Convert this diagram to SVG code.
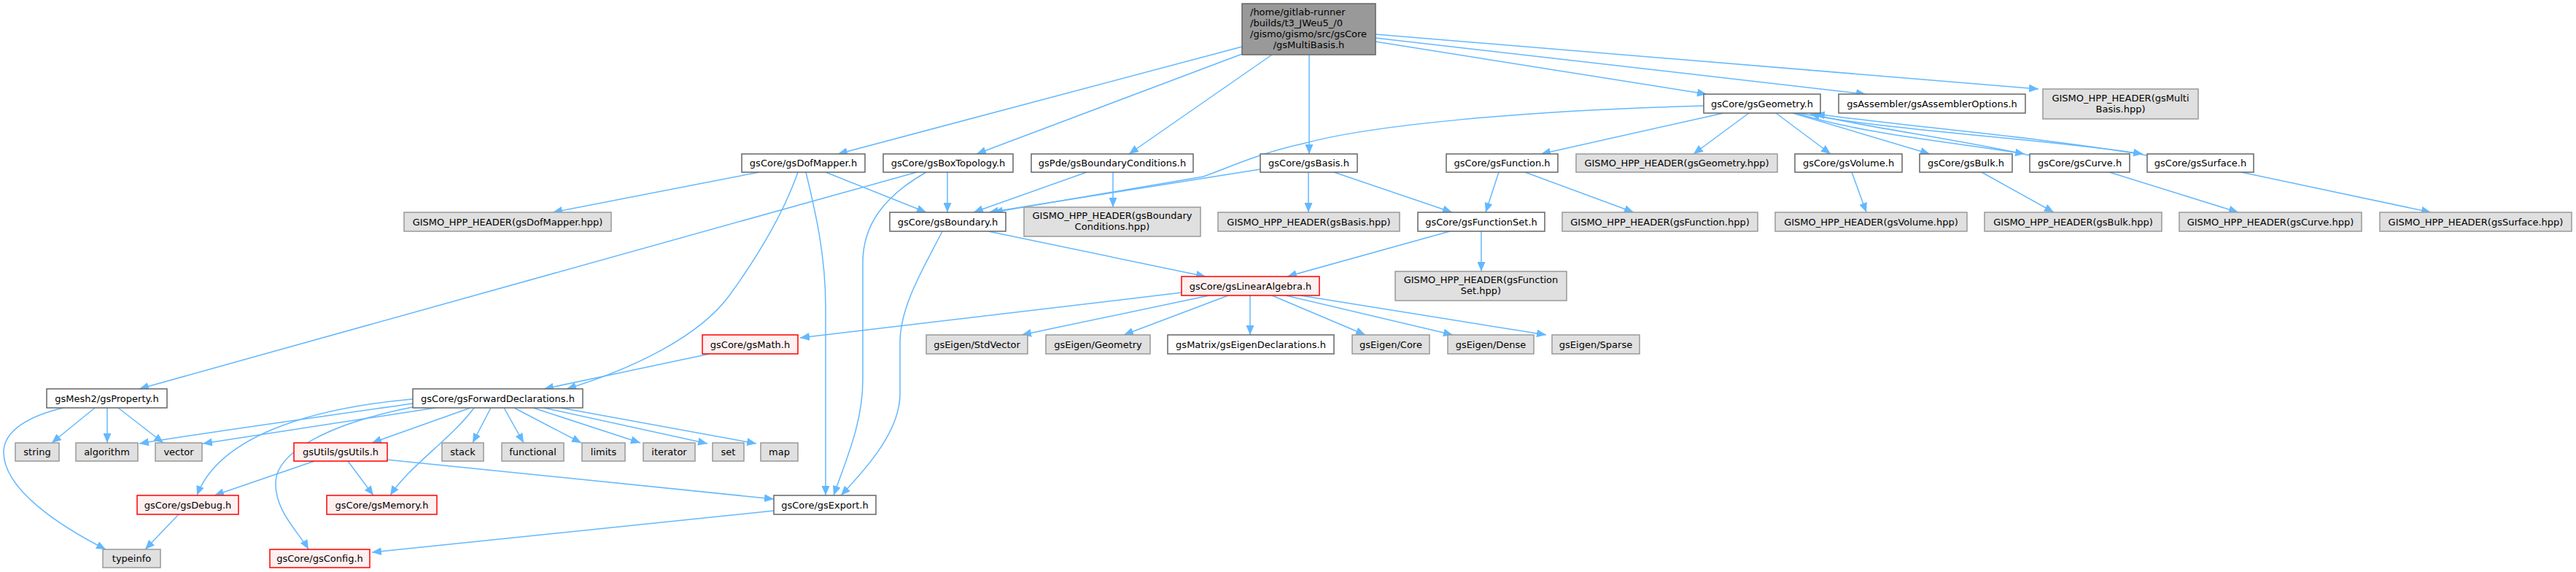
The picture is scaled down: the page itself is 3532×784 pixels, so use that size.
<svg xmlns="http://www.w3.org/2000/svg" width="3532" height="784" viewBox="0 0 3532 784">
<style>
rect{stroke-width:1.5}
.n rect{fill:#ffffff;stroke:#666666}
.g rect{fill:#e0e0e0;stroke:#999999}
.r rect{fill:#fff0f0;stroke:#ff0000}
.root rect{fill:#999999;stroke:#666666}
text{font-family:"DejaVu Sans",sans-serif;font-size:13px;fill:#000;text-anchor:middle}
.l{text-anchor:start}
#edges path{fill:none;stroke:#63b8ff;stroke-width:1.5;marker-end:url(#a)}
</style>
<defs>
<marker id="a" markerWidth="14" markerHeight="11" refX="13" refY="5.5" orient="auto" markerUnits="userSpaceOnUse"><path d="M0,0 L13,5.5 L0,11 z" fill="#63b8ff"/></marker>
</defs>
<rect width="3532" height="784" fill="#ffffff"/>
<g id="edges">
<path d="M1703,64 L1149,211"/>
<path d="M1703,74 L1339,211"/>
<path d="M1744,75 L1548,211"/>
<path d="M1795,75 L1795,211"/>
<path d="M1886,57 L2340,129"/>
<path d="M1886,52 L2558,129"/>
<path d="M1886,47 L2795,122"/>
<path d="M2336,145 C2080,152 1880,172 1790,196 C1720,212 1690,228 1650,242 L1362,291"/>
<path d="M2363,155 L2113,211"/>
<path d="M2398,155 L2322,211"/>
<path d="M2435,155 L2510,211"/>
<path d="M2458,155 L2646,211"/>
<path d="M2462,155 C2560,185 2680,195 2776,211"/>
<path d="M2783,213 C2680,190 2560,175 2482,156"/>
<path d="M2466,155 C2600,180 2800,190 2938,211"/>
<path d="M2944,213 C2800,188 2600,172 2489,156"/>
<path d="M1041,236 L758,291"/>
<path d="M1132,236 L1270,291"/>
<path d="M1094,236 C1075,290 1040,350 1000,405 C960,460 870,505 777,533"/>
<path d="M1105,236 C1118,290 1132,350 1132,420 L1132,679"/>
<path d="M1257,236 L191,533"/>
<path d="M1270,236 C1210,270 1183,310 1183,360 L1183,520 C1183,580 1160,630 1143,679"/>
<path d="M1299,236 L1299,291"/>
<path d="M1490,236 L1335,291"/>
<path d="M1526,236 L1526,284"/>
<path d="M1728,232 L1356,291"/>
<path d="M1794,236 L1794,291"/>
<path d="M1829,236 L1991,291"/>
<path d="M2055,236 L2037,291"/>
<path d="M2091,236 L2240,291"/>
<path d="M2539,236 L2559,291"/>
<path d="M2717,236 L2816,291"/>
<path d="M2892,236 L3069,291"/>
<path d="M3073,236 L3333,291"/>
<path d="M1355,317 L1653,379"/>
<path d="M1292,317 C1265,370 1234,420 1234,470 L1234,540 C1234,590 1190,640 1153,679"/>
<path d="M1988,317 L1765,379"/>
<path d="M2031,317 L2031,372"/>
<path d="M1620,401 L1097,463"/>
<path d="M1658,405 L1401,459"/>
<path d="M1684,405 L1541,459"/>
<path d="M1714,405 L1714,459"/>
<path d="M1744,405 L1872,459"/>
<path d="M1763,405 L1992,459"/>
<path d="M1783,405 L2120,459"/>
<path d="M973,485 L746,533"/>
<path d="M87,559 C40,570 5,590 5,620 C5,670 80,720 145,753"/>
<path d="M130,559 L71,607"/>
<path d="M147,559 L147,607"/>
<path d="M162,559 L224,607"/>
<path d="M566,553 C450,570 300,590 191,608"/>
<path d="M597,559 L278,608"/>
<path d="M645,559 L510,607"/>
<path d="M673,559 L648,607"/>
<path d="M691,559 L718,607"/>
<path d="M705,559 L797,607"/>
<path d="M731,559 L878,607"/>
<path d="M746,559 L970,608"/>
<path d="M769,559 L1037,608"/>
<path d="M566,547 C420,560 300,600 270,679"/>
<path d="M571,557 C450,580 380,620 378,660 C376,700 410,730 423,753"/>
<path d="M650,559 C620,600 560,640 535,679"/>
<path d="M431,632 L294,679"/>
<path d="M477,632 L512,679"/>
<path d="M530,630 L1061,684"/>
<path d="M245,705 L199,753"/>
<path d="M1061,700 L510,757"/>
</g>
<g id="root" class="root"><rect x="1703" y="5" width="183" height="70"/><text class="l" x="1714" y="21">/home/gitlab-runner</text><text class="l" x="1714" y="36">/builds/t3_JWeu5_/0</text><text class="l" x="1714" y="51">/gismo/gismo/src/gsCore</text><text x="1794.5" y="66">/gsMultiBasis.h</text></g>
<g id="gsGeometry" class="n"><rect x="2336" y="129" width="160" height="26"/><text x="2416" y="146.5">gsCore/gsGeometry.h</text></g>
<g id="gsAssemblerOptions" class="n"><rect x="2521" y="129" width="256" height="26"/><text x="2649" y="146.5">gsAssembler/gsAssemblerOptions.h</text></g>
<g id="gsMultiBasis_hpp" class="g"><rect x="2801" y="122" width="213" height="41"/><text x="2907.5" y="139">GISMO_HPP_HEADER(gsMulti</text><text x="2907.5" y="154">Basis.hpp)</text></g>
<g id="gsDofMapper" class="n"><rect x="1017" y="211" width="169" height="25"/><text x="1101.5" y="228">gsCore/gsDofMapper.h</text></g>
<g id="gsBoxTopology" class="n"><rect x="1211" y="211" width="178" height="25"/><text x="1300" y="228">gsCore/gsBoxTopology.h</text></g>
<g id="gsBoundaryConditions" class="n"><rect x="1414" y="211" width="222" height="25"/><text x="1525" y="228">gsPde/gsBoundaryConditions.h</text></g>
<g id="gsBasis" class="n"><rect x="1728" y="211" width="133" height="25"/><text x="1794.5" y="228">gsCore/gsBasis.h</text></g>
<g id="gsFunction" class="n"><rect x="1983" y="211" width="153" height="25"/><text x="2059.5" y="228">gsCore/gsFunction.h</text></g>
<g id="gsGeometry_hpp" class="g"><rect x="2161" y="211" width="276" height="25"/><text x="2299" y="228">GISMO_HPP_HEADER(gsGeometry.hpp)</text></g>
<g id="gsVolume" class="n"><rect x="2461" y="211" width="147" height="25"/><text x="2534.5" y="228">gsCore/gsVolume.h</text></g>
<g id="gsBulk" class="n"><rect x="2632" y="211" width="127" height="25"/><text x="2695.5" y="228">gsCore/gsBulk.h</text></g>
<g id="gsCurve" class="n"><rect x="2783" y="211" width="137" height="25"/><text x="2851.5" y="228">gsCore/gsCurve.h</text></g>
<g id="gsSurface" class="n"><rect x="2944" y="211" width="146" height="25"/><text x="3017" y="228">gsCore/gsSurface.h</text></g>
<g id="gsDofMapper_hpp" class="g"><rect x="554" y="291" width="284" height="26"/><text x="696" y="308.5">GISMO_HPP_HEADER(gsDofMapper.hpp)</text></g>
<g id="gsBoundary" class="n"><rect x="1220" y="291" width="159" height="26"/><text x="1299.5" y="308.5">gsCore/gsBoundary.h</text></g>
<g id="gsBoundaryConditions_hpp" class="g"><rect x="1404" y="284" width="242" height="40"/><text x="1525" y="300">GISMO_HPP_HEADER(gsBoundary</text><text x="1525" y="315">Conditions.hpp)</text></g>
<g id="gsBasis_hpp" class="g"><rect x="1670" y="291" width="249" height="26"/><text x="1794.5" y="308.5">GISMO_HPP_HEADER(gsBasis.hpp)</text></g>
<g id="gsFunctionSet" class="n"><rect x="1944" y="291" width="174" height="26"/><text x="2031" y="308.5">gsCore/gsFunctionSet.h</text></g>
<g id="gsFunction_hpp" class="g"><rect x="2142" y="291" width="268" height="26"/><text x="2276" y="308.5">GISMO_HPP_HEADER(gsFunction.hpp)</text></g>
<g id="gsVolume_hpp" class="g"><rect x="2434" y="291" width="263" height="26"/><text x="2565.5" y="308.5">GISMO_HPP_HEADER(gsVolume.hpp)</text></g>
<g id="gsBulk_hpp" class="g"><rect x="2721" y="291" width="243" height="26"/><text x="2842.5" y="308.5">GISMO_HPP_HEADER(gsBulk.hpp)</text></g>
<g id="gsCurve_hpp" class="g"><rect x="2988" y="291" width="250" height="26"/><text x="3113" y="308.5">GISMO_HPP_HEADER(gsCurve.hpp)</text></g>
<g id="gsSurface_hpp" class="g"><rect x="3263" y="291" width="263" height="26"/><text x="3394.5" y="308.5">GISMO_HPP_HEADER(gsSurface.hpp)</text></g>
<g id="gsLinearAlgebra" class="r"><rect x="1620" y="379" width="189" height="26"/><text x="1714.5" y="396.5">gsCore/gsLinearAlgebra.h</text></g>
<g id="gsFunctionSet_hpp" class="g"><rect x="1913" y="372" width="235" height="40"/><text x="2030.5" y="388">GISMO_HPP_HEADER(gsFunction</text><text x="2030.5" y="403">Set.hpp)</text></g>
<g id="gsMath" class="r"><rect x="963" y="459" width="131" height="26"/><text x="1028.5" y="476.5">gsCore/gsMath.h</text></g>
<g id="StdVector" class="g"><rect x="1270" y="459" width="139" height="26"/><text x="1339.5" y="476.5">gsEigen/StdVector</text></g>
<g id="EigenGeometry" class="g"><rect x="1434" y="459" width="143" height="26"/><text x="1505.5" y="476.5">gsEigen/Geometry</text></g>
<g id="gsEigenDeclarations" class="n"><rect x="1601" y="459" width="228" height="26"/><text x="1715" y="476.5">gsMatrix/gsEigenDeclarations.h</text></g>
<g id="EigenCore" class="g"><rect x="1854" y="459" width="106" height="26"/><text x="1907" y="476.5">gsEigen/Core</text></g>
<g id="EigenDense" class="g"><rect x="1985" y="459" width="118" height="26"/><text x="2044" y="476.5">gsEigen/Dense</text></g>
<g id="EigenSparse" class="g"><rect x="2128" y="459" width="120" height="26"/><text x="2188" y="476.5">gsEigen/Sparse</text></g>
<g id="gsProperty" class="n"><rect x="64" y="533" width="165" height="26"/><text x="146.5" y="550.5">gsMesh2/gsProperty.h</text></g>
<g id="gsForwardDeclarations" class="n"><rect x="566" y="533" width="233" height="26"/><text x="682.5" y="550.5">gsCore/gsForwardDeclarations.h</text></g>
<g id="string" class="g"><rect x="21" y="607" width="60" height="25"/><text x="51" y="624">string</text></g>
<g id="algorithm" class="g"><rect x="104" y="607" width="85" height="25"/><text x="146.5" y="624">algorithm</text></g>
<g id="vector" class="g"><rect x="213" y="607" width="64" height="25"/><text x="245" y="624">vector</text></g>
<g id="gsUtils" class="r"><rect x="403" y="607" width="128" height="25"/><text x="467" y="624">gsUtils/gsUtils.h</text></g>
<g id="stack" class="g"><rect x="606" y="607" width="57" height="25"/><text x="634.5" y="624">stack</text></g>
<g id="functional" class="g"><rect x="688" y="607" width="85" height="25"/><text x="730.5" y="624">functional</text></g>
<g id="limits" class="g"><rect x="798" y="607" width="59" height="25"/><text x="827.5" y="624">limits</text></g>
<g id="iterator" class="g"><rect x="882" y="607" width="71" height="25"/><text x="917.5" y="624">iterator</text></g>
<g id="set" class="g"><rect x="977" y="607" width="43" height="25"/><text x="998.5" y="624">set</text></g>
<g id="map" class="g"><rect x="1043" y="607" width="51" height="25"/><text x="1068.5" y="624">map</text></g>
<g id="gsDebug" class="r"><rect x="188" y="679" width="139" height="26"/><text x="257.5" y="696.5">gsCore/gsDebug.h</text></g>
<g id="gsMemory" class="r"><rect x="448" y="679" width="151" height="26"/><text x="523.5" y="696.5">gsCore/gsMemory.h</text></g>
<g id="gsExport" class="n"><rect x="1061" y="679" width="140" height="26"/><text x="1131" y="696.5">gsCore/gsExport.h</text></g>
<g id="typeinfo" class="g"><rect x="141" y="753" width="79" height="25"/><text x="180.5" y="770">typeinfo</text></g>
<g id="gsConfig" class="r"><rect x="370" y="753" width="137" height="25"/><text x="438.5" y="770">gsCore/gsConfig.h</text></g>
</svg>
